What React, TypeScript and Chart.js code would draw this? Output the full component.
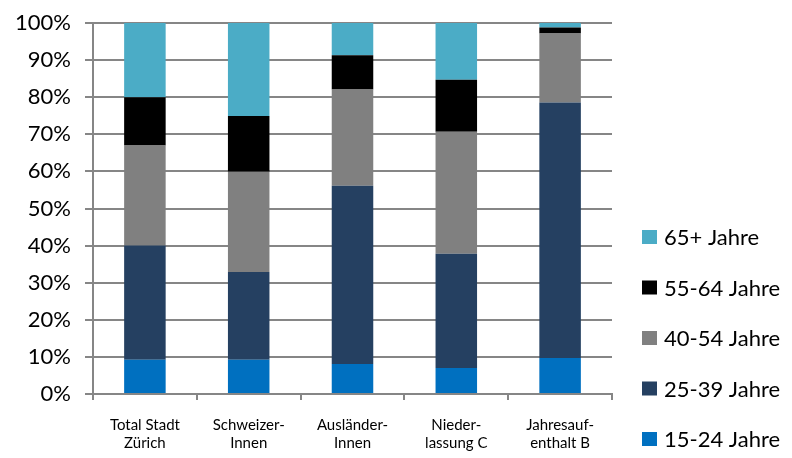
import React, { useEffect, useRef } from "react";
import { Chart, registerables } from "chart.js";

Chart.register(...registerables);

const categories: string[][] = [
  ["Total Stadt", "Zürich"],
  ["Schweizer-", "Innen"],
  ["Ausländer-", "Innen"],
  ["Nieder-", "lassung C"],
  ["Jahresauf-", "enthalt B"],
];

const age15to24 = [9.2, 9.2, 8.1, 7.0, 9.7];
const age25to39 = [30.8, 23.7, 48.0, 30.8, 68.9];
const age40to54 = [27.0, 27.0, 26.0, 32.9, 18.6];
const age55to64 = [13.0, 15.0, 9.2, 14.0, 1.6];
const age65plus = [20.0, 25.1, 8.7, 15.3, 1.2];

const seriesLabels = ["15-24 Jahre", "25-39 Jahre", "40-54 Jahre", "55-64 Jahre", "65+ Jahre"];
const seriesColors = ["#0070C0", "#254061", "#808080", "#000000", "#4BACC6"];

const gridColor = "#868686";
const fontFamily = "Lato, 'Open Sans', sans-serif";

// Legend on the right, listed top-down from the oldest group
const sideLegend = {
  id: "sideLegend",
  afterDraw(chart: any) {
    const { ctx } = chart;
    const datasets = chart.data.datasets;
    const boxX = 642;
    const boxSize = 15;
    const firstY = 237;
    const step = 50.5;
    ctx.save();
    ctx.font = `22px ${fontFamily}`;
    ctx.textBaseline = "middle";
    ctx.textAlign = "left";
    for (let i = datasets.length - 1, row = 0; i >= 0; i--, row++) {
      const y = firstY + row * step;
      ctx.fillStyle = datasets[i].backgroundColor;
      ctx.fillRect(boxX, y - 7, boxSize, 14);
      ctx.fillStyle = "#000";
      ctx.fillText(datasets[i].label, boxX + 22, y + 1);
    }
    ctx.restore();
  },
};

export default function App() {
  const canvasRef = useRef<HTMLCanvasElement | null>(null);

  useEffect(() => {
    document.body.style.margin = "0";
    const canvas = canvasRef.current;
    if (!canvas) return;
    const seriesValues = [age15to24, age25to39, age40to54, age55to64, age65plus];
    const chart = new Chart(canvas, {
      type: "bar",
      data: {
        labels: categories,
        datasets: seriesValues.map((vals, i) => ({
          label: seriesLabels[i],
          data: vals,
          backgroundColor: seriesColors[i],
          borderWidth: 0,
          categoryPercentage: 1,
          barPercentage: 0.4,
        })),
      },
      plugins: [sideLegend],
      options: {
        animation: false,
        responsive: false,
        maintainAspectRatio: false,
        layout: { padding: { top: 23, right: 180, left: 0, bottom: 0 } },
        plugins: {
          tooltip: { enabled: false },
          legend: { display: false },
        },
        scales: {
          x: {
            stacked: true,
            afterFit: (scale: any) => {
              scale.height = 64;
            },
            grid: {
              offset: true,
              drawOnChartArea: false,
              drawTicks: true,
              tickLength: 6,
              color: gridColor,
              lineWidth: 2,
            },
            border: { color: gridColor, width: 2 },
            ticks: {
              color: "#000",
              font: { family: fontFamily, size: 15 },
              padding: 16,
              maxRotation: 0,
              autoSkip: false,
            },
          },
          y: {
            stacked: true,
            min: 0,
            max: 100,
            afterFit: (scale: any) => {
              scale.width = 93;
              scale.paddingTop = 0;
              scale.paddingBottom = 0;
            },
            grid: {
              color: gridColor,
              lineWidth: 2,
              tickLength: 8,
            },
            border: { color: gridColor, width: 2 },
            ticks: {
              stepSize: 10,
              color: "#000",
              padding: 14,
              font: { family: fontFamily, size: 22 },
              callback: (v: any) => `${v}%`,
            },
          },
        },
      },
    });
    return () => chart.destroy();
  }, []);

  return (
    <div style={{ width: 792, height: 458, background: "#fff" }}>
      <canvas ref={canvasRef} width={792} height={458} style={{ display: "block" }} />
    </div>
  );
}
